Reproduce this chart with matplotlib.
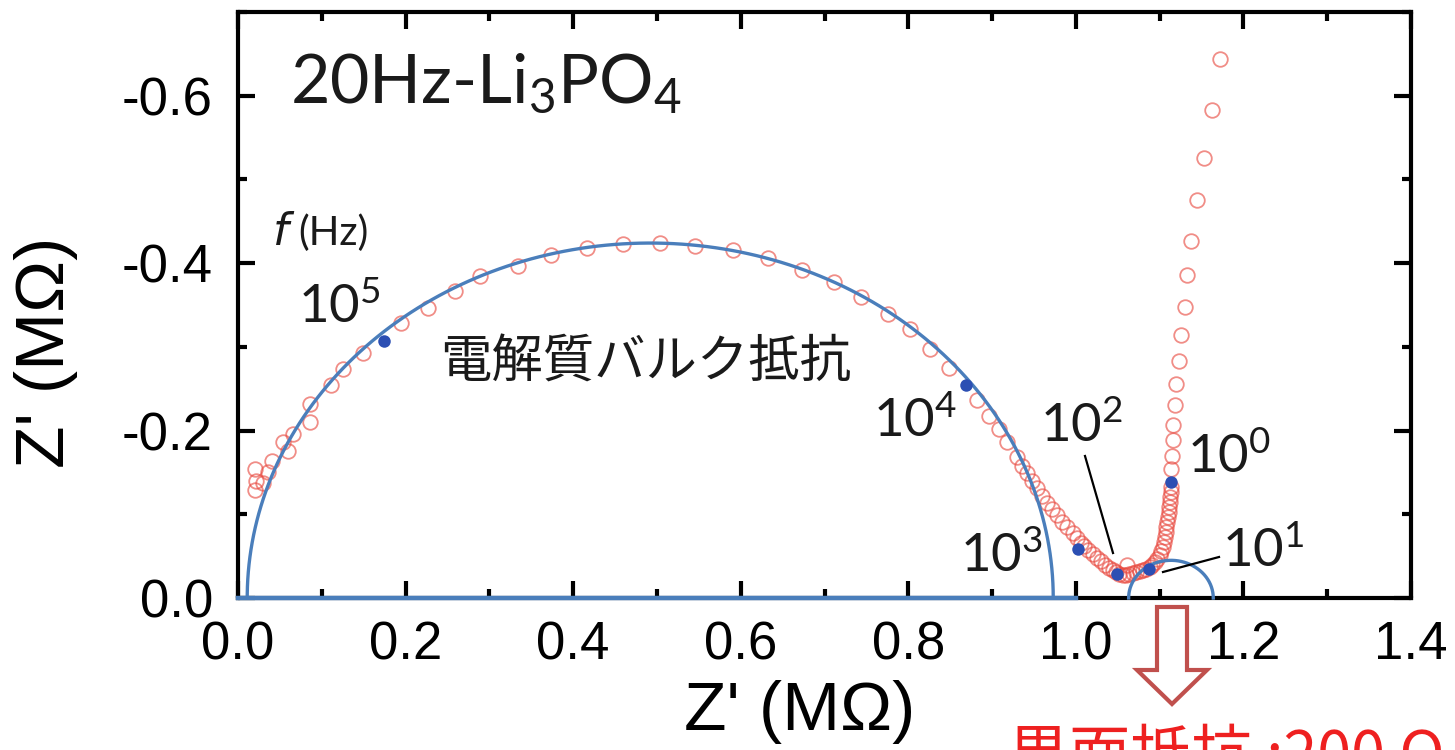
import matplotlib
matplotlib.use("Agg")
import matplotlib.pyplot as plt
import matplotlib.patches as mpatches
from matplotlib.lines import Line2D
from matplotlib.ticker import MultipleLocator, FormatStrFormatter
import numpy as np

plt.rcParams['axes.unicode_minus'] = False

# ---------------- data (MΩ) ----------------
zre_data = [0.020, 0.020, 0.022, 0.030, 0.036, 0.040, 0.054, 0.060, 0.066, 0.086, 0.086,
            0.111, 0.125, 0.149, 0.195, 0.227, 0.259, 0.289, 0.334, 0.374, 0.416, 0.460,
            0.504, 0.546, 0.591, 0.633, 0.673, 0.711, 0.743, 0.776, 0.802, 0.826, 0.848,
            0.882, 0.896, 0.908, 0.918, 0.930, 0.936, 0.942, 0.948, 0.954, 0.960, 0.966,
            0.972, 0.978, 0.984, 0.990, 0.996, 1.001, 1.006, 1.010, 1.015, 1.020, 1.025,
            1.030, 1.035, 1.040, 1.044, 1.048, 1.052, 1.056, 1.060, 1.061, 1.064, 1.068,
            1.072, 1.076, 1.080, 1.084, 1.088, 1.091, 1.094, 1.097, 1.100, 1.102, 1.104,
            1.105, 1.106, 1.107, 1.108, 1.109, 1.110, 1.111, 1.111, 1.112, 1.112, 1.113,
            1.113, 1.114, 1.115, 1.116, 1.116, 1.118, 1.120, 1.123, 1.126, 1.130, 1.133,
            1.138, 1.145, 1.153, 1.163, 1.172]
zim_data = [0.154, 0.129, 0.140, 0.137, 0.150, 0.164, 0.186, 0.176, 0.196, 0.232, 0.210,
            0.254, 0.273, 0.293, 0.329, 0.347, 0.367, 0.385, 0.396, 0.410, 0.418, 0.423,
            0.424, 0.420, 0.416, 0.406, 0.392, 0.377, 0.359, 0.339, 0.321, 0.297, 0.275,
            0.236, 0.218, 0.202, 0.186, 0.168, 0.158, 0.149, 0.140, 0.131, 0.122, 0.114,
            0.106, 0.099, 0.091, 0.085, 0.078, 0.072, 0.066, 0.062, 0.057, 0.052, 0.048,
            0.044, 0.040, 0.036, 0.033, 0.031, 0.029, 0.028, 0.028, 0.039, 0.029, 0.030,
            0.031, 0.032, 0.034, 0.035, 0.037, 0.040, 0.043, 0.047, 0.051, 0.056, 0.061,
            0.067, 0.073, 0.079, 0.085, 0.091, 0.097, 0.103, 0.109, 0.115, 0.121, 0.127,
            0.133, 0.154, 0.170, 0.189, 0.207, 0.230, 0.256, 0.283, 0.314, 0.348, 0.386,
            0.427, 0.475, 0.526, 0.583, 0.644]

# frequency-decade markers (10^5, 10^4, 10^3, 10^2, 10^1, 10^0)
dec_zre = [0.174, 0.869, 1.003, 1.049, 1.087, 1.113]
dec_zim = [0.307, 0.254, 0.059, 0.029, 0.035, 0.139]

# fit arcs: centre, half-width, height (MΩ)
fit_bulk = [0.492, 0.481, 0.424]
fit_intf = [1.1135, 0.0505, 0.045]
baseline_x = [0.0, 1.0]

W, H = 1455, 750
fig = plt.figure(figsize=(W / 100, H / 100), dpi=100)

def P(px, py):
    return (px / W, 1 - py / H)

ax = fig.add_axes([238 / W, 1 - 598 / H, (1411 - 238) / W, (598 - 12) / H])

red = (0.91, 0.28, 0.24)
ax.plot(zre_data, -np.array(zim_data), 'o', mfc='none', mec=red, ms=10.5, mew=1.3,
        alpha=0.62, zorder=3, clip_on=False)

blue_fit = '#4a7ebb'
for c, a, b in (fit_bulk, fit_intf):
    t = np.linspace(0, np.pi, 300)
    ax.plot(c + a * np.cos(t), -b * np.sin(t), color=blue_fit, lw=2.4, zorder=4, clip_on=False)
ax.plot(baseline_x, [0, 0], color=blue_fit, lw=3.2, zorder=6, clip_on=False)

ax.plot(dec_zre, -np.array(dec_zim), 'o', color='#2c4fb3', ms=9, mec='none', zorder=5)

ax.set_xlim(0, 1.4)
ax.set_ylim(0, -0.7)
ax.xaxis.set_major_locator(MultipleLocator(0.2))
ax.xaxis.set_minor_locator(MultipleLocator(0.1))
ax.yaxis.set_major_locator(MultipleLocator(0.2))
ax.yaxis.set_minor_locator(MultipleLocator(0.1))
ax.xaxis.set_major_formatter(FormatStrFormatter('%.1f'))
ax.yaxis.set_major_formatter(FormatStrFormatter('%.1f'))
for s in ax.spines.values():
    s.set_linewidth(3.0)
ax.tick_params(which='both', direction='in', top=True, right=True, width=3.0)
ax.tick_params(which='major', length=12)
ax.tick_params(which='minor', length=6.5)
ax.tick_params(axis='x', which='major', pad=16, labelsize=38)
ax.tick_params(axis='y', which='major', pad=18, labelsize=38)
for lab in ax.get_xticklabels() + ax.get_yticklabels():
    lab.set_fontfamily('Liberation Sans')

fig.text(*P(800, 712), "Z' (MΩ)", fontsize=50, family='Liberation Sans', ha='center', va='center')
fig.text(*P(46, 352), "Z' (MΩ)", fontsize=50, family='Liberation Sans', ha='center', va='center',
         rotation=90)

ann_font = 'Lato'
fig.text(*P(290, 103), r'20Hz-Li$\mathregular{_3}$PO$\mathregular{_4}$', fontsize=49,
         family=ann_font, ha='left', va='baseline', color='#1a1a1a')
fig.text(*P(272, 245), r'$\it{f}$', fontsize=32, family=ann_font, ha='left', va='baseline',
         color='#1a1a1a')
fig.text(*P(298, 245), '(Hz)', fontsize=29, family=ann_font, ha='left', va='baseline',
         color='#1a1a1a')

dec_labels = [('5', 298, 323), ('4', 873, 437), ('2', 1040, 442), ('3', 960, 572),
              ('0', 1187, 473), ('1', 1222, 567)]
for e, px, py in dec_labels:
    fig.text(*P(px, py), r'$\mathregular{10^{%s}}$' % e, fontsize=38, family=ann_font,
             ha='left', va='baseline', color='#1a1a1a')

fig.text(*P(440, 363), '電解質バルク抵抗', fontsize=37, family='Noto Sans CJK JP',
         ha='left', va='center', color='#1a1a1a')

for (x0, y0), (x1, y1) in [((1085, 456), (1113, 553)), ((1219, 557), (1163, 572))]:
    a0, b0 = P(x0, y0)
    a1, b1 = P(x1, y1)
    fig.add_artist(Line2D([a0, a1], [b0, b1], color='black', lw=1.6, transform=fig.transFigure))

arrow_px = [(1157, 607), (1187, 607), (1187, 670), (1207, 670), (1172, 704),
            (1137, 670), (1157, 670)]
arrow = mpatches.Polygon([P(x, y) for x, y in arrow_px], closed=True, transform=fig.transFigure,
                         facecolor='white', edgecolor='#c0504d', lw=3.0, joinstyle='miter')
fig.add_artist(arrow)

fig.text(*P(1008, 726), '界面抵抗 :200 Ω', fontsize=44,
         family=['Noto Sans CJK JP', 'DejaVu Sans'], ha='left', va='top', color='#ee2020')

fig.savefig('out.png', dpi=100)
